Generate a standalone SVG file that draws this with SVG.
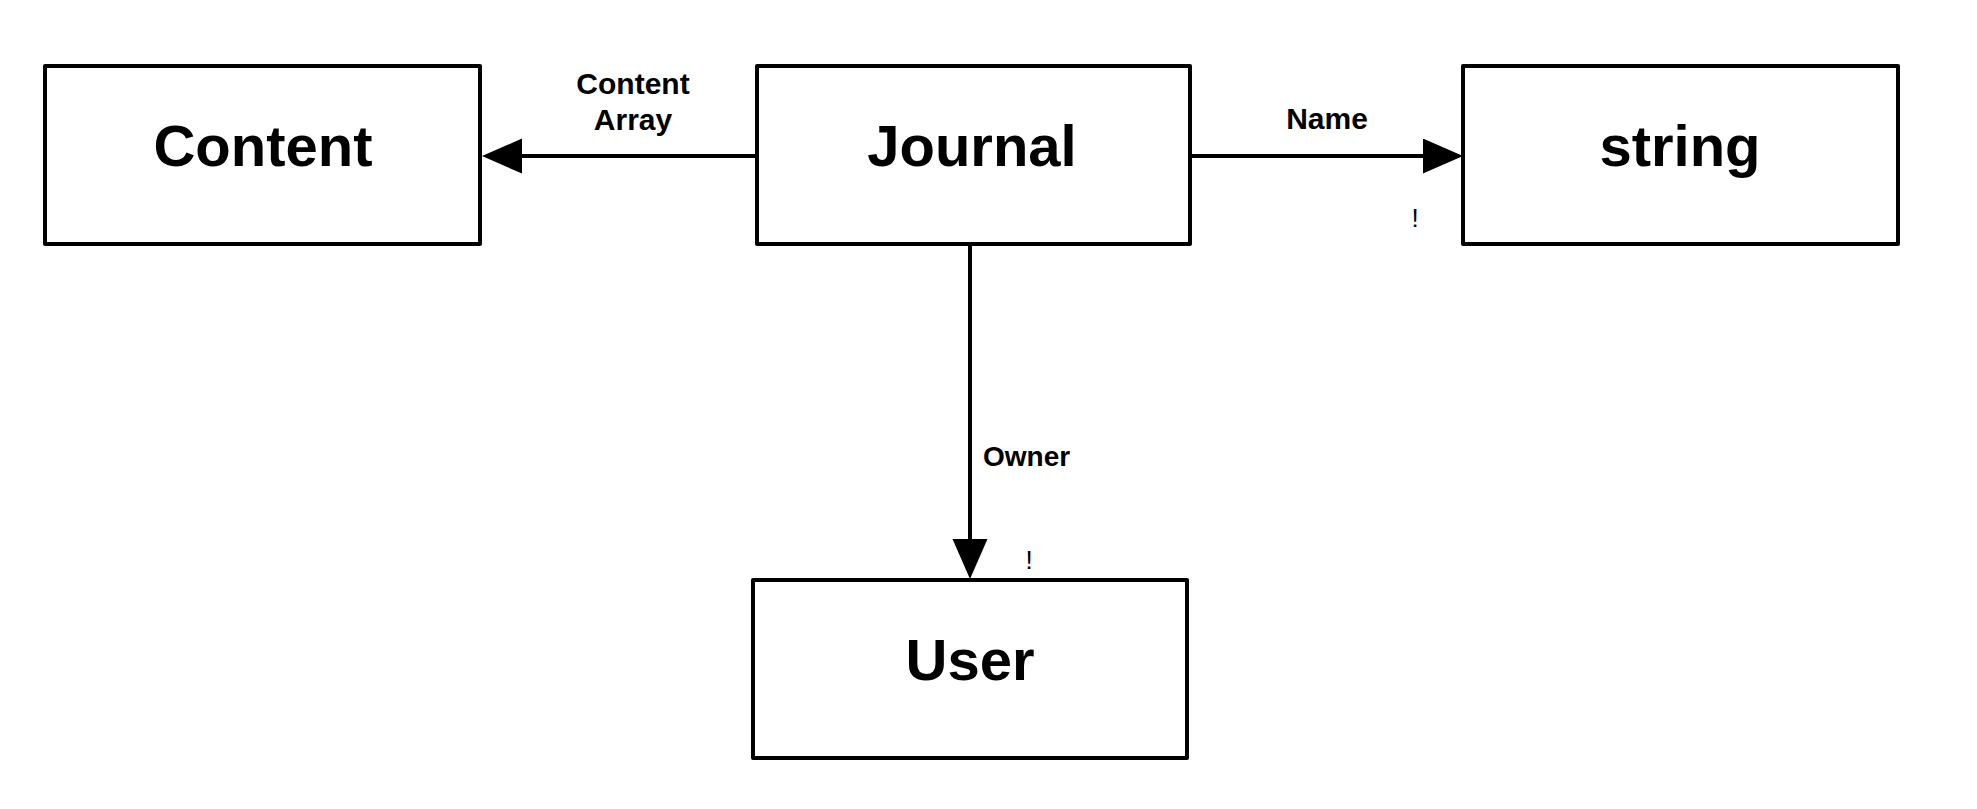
<svg xmlns="http://www.w3.org/2000/svg" width="1977" height="809" viewBox="0 0 1977 809">
  <style>
    .box { fill: #ffffff; stroke: #000000; stroke-width: 4; stroke-linejoin: round; }
    .title { font-family: "Liberation Sans", Arial, sans-serif; font-weight: bold; font-size: 58px; fill: #000000; text-anchor: middle; }
    .lbl { font-family: "Liberation Sans", Arial, sans-serif; font-weight: bold; font-size: 30px; fill: #000000; }
    .mark { font-family: "Liberation Sans", Arial, sans-serif; font-size: 26px; fill: #000000; text-anchor: middle; }
    .edge { fill: none; stroke: #000000; stroke-width: 4; }
  </style>
  <defs>
    <marker id="arrow" markerUnits="userSpaceOnUse" markerWidth="42" markerHeight="36" refX="1" refY="17.5" orient="auto">
      <path d="M0,0 L40,17.5 L0,35 z" fill="#000000"/>
    </marker>
  </defs>
  <rect width="1977" height="809" fill="#ffffff"/>

  <g id="connectors">
    <g id="edge-content">
      <path class="edge" d="M757,156 L521,156" marker-end="url(#arrow)"/>
      <text class="lbl" x="633" y="94" text-anchor="middle">Content</text>
      <text class="lbl" x="633" y="130" text-anchor="middle">Array</text>
    </g>
    <g id="edge-name">
      <path class="edge" d="M1190,156 L1424,156" marker-end="url(#arrow)"/>
      <text class="lbl" x="1327" y="129" text-anchor="middle">Name</text>
      <text class="mark" x="1415" y="227">!</text>
    </g>
    <g id="edge-owner">
      <path class="edge" d="M970,244 L970,540" marker-end="url(#arrow)"/>
      <text class="lbl" x="983" y="466" style="font-size:28px">Owner</text>
      <text class="mark" x="1029" y="569">!</text>
    </g>
  </g>

  <g id="node-content">
    <rect class="box" x="45" y="66" width="435" height="178"/>
    <text class="title" x="263" y="166">Content</text>
  </g>
  <g id="node-journal">
    <rect class="box" x="757" y="66" width="433" height="178"/>
    <text class="title" x="972" y="166">Journal</text>
  </g>
  <g id="node-string">
    <rect class="box" x="1463" y="66" width="435" height="178"/>
    <text class="title" x="1680" y="166">string</text>
  </g>
  <g id="node-user">
    <rect class="box" x="753" y="580" width="434" height="178"/>
    <text class="title" x="970" y="680">User</text>
  </g>
</svg>
